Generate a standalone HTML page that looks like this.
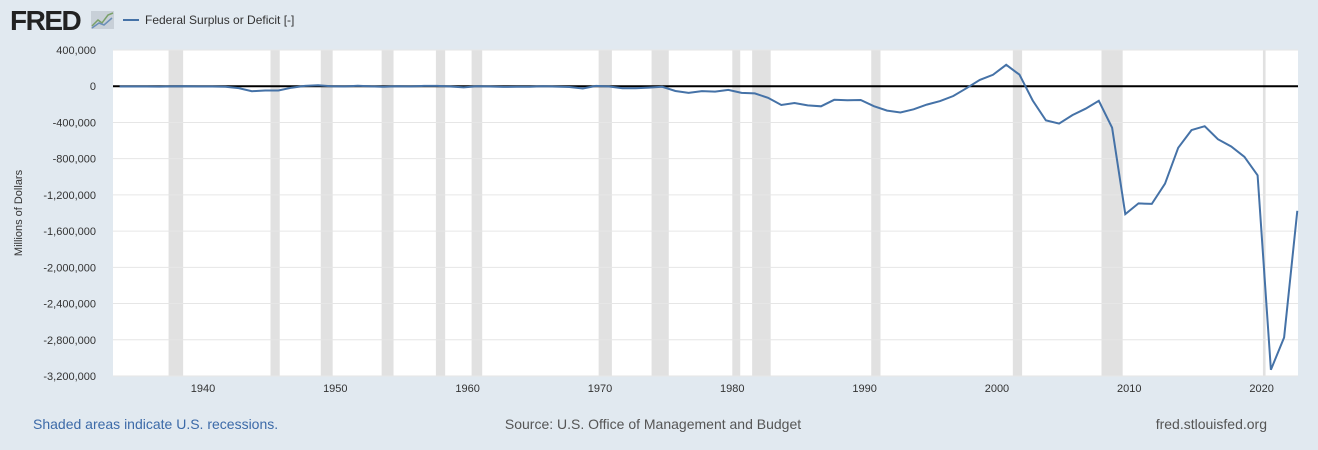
<!DOCTYPE html>
<html><head><meta charset="utf-8"><style>
body{margin:0;width:1318px;height:450px;background:#e1e9f0;font-family:"Liberation Sans",sans-serif;overflow:hidden}
</style></head><body>
<svg id="c" width="1318" height="450" style="position:absolute;left:0;top:0">
<text x="10" y="30" font-size="28" font-weight="bold" fill="#222" letter-spacing="-1.5">FRED</text>
<g><rect x="91" y="11" width="23" height="18" fill="#c8d0d8"/><polyline points="92,26 98,20 102,23 108,15 113,13" fill="none" stroke="#7aa06a" stroke-width="1.5"/><polyline points="92,28 99,23 104,25 112,18" fill="none" stroke="#6b8fb8" stroke-width="1.5"/></g>
<line x1="123" y1="20" x2="139" y2="20" stroke="#4572a7" stroke-width="2"/>
<text x="145" y="24" font-size="12" fill="#333">Federal Surplus or Deficit [-]</text>
<rect x="113" y="50" width="1185" height="326" fill="#fff"/>
<g id="rec"></g><g id="grid"></g><g id="xt"></g>
<text transform="translate(22,213) rotate(-90)" text-anchor="middle" font-size="11" fill="#333">Millions of Dollars</text>
<path id="line" fill="none" stroke="#4572a7" stroke-width="2"/>
<text x="33" y="429" font-size="14" fill="#3c6aa8">Shaded areas indicate U.S. recessions.</text>
<text x="653" y="429" font-size="14" fill="#555" text-anchor="middle">Source: U.S. Office of Management and Budget</text>
<text x="1267" y="429" font-size="14" fill="#555" text-anchor="end">fred.stlouisfed.org</text>
</svg>
<script>
const years=[];for(let y=1933;y<=2022;y++)years.push(y);
const values=[-2602,-3586,-2803,-4304,-2193,-89,-2846,-2920,-4941,-20503,-54554,-47557,-47553,-15936,4018,11796,580,-3119,6102,-1519,-6493,-1154,-2993,3947,3412,-2769,-12849,301,-3335,-7146,-4756,-5915,-1411,-3698,-8643,-25161,3242,-2842,-23033,-23373,-14908,-6135,-53242,-73732,-53659,-59185,-40726,-73830,-78968,-127977,-207802,-185367,-212308,-221227,-149730,-155178,-152639,-221036,-269238,-290321,-255051,-203186,-163952,-107431,-21884,69270,125610,236241,128236,-157758,-377585,-412727,-318346,-248181,-160701,-458553,-1412688,-1294373,-1299599,-1076573,-679775,-484602,-441960,-584651,-665446,-779137,-983588,-3131917,-2775327,-1375475];
const yTicks=[400000,0,-400000,-800000,-1200000,-1600000,-2000000,-2400000,-2800000,-3200000];
const xTicks=[1940,1950,1960,1970,1980,1990,2000,2010,2020];
const recessions=[[1937.4,1938.5],[1945.1,1945.8],[1948.9,1949.8],[1953.5,1954.4],[1957.6,1958.3],[1960.3,1961.1],[1969.9,1970.9],[1973.9,1975.2],[1980.0,1980.6],[1981.5,1982.9],[1990.5,1991.2],[2001.2,2001.9],[2007.9,2009.5],[2020.1,2020.3]];
const X=t=>113+(t-1933.2)/(2022.75-1933.2)*1185;
const Y=v=>50+(400000-v)/3600000*326;
const ns="http://www.w3.org/2000/svg";
const mk=(g,tag,a)=>{const e=document.createElementNS(ns,tag);for(const k in a)e.setAttribute(k,a[k]);document.getElementById(g).appendChild(e);return e;};
recessions.forEach(r=>{const e=mk('rec','rect',{x:X(r[0]),y:50,width:Math.max(1.5,X(r[1])-X(r[0])),height:326,fill:'#e1e1e1'});

});
yTicks.forEach(v=>{const l=mk('grid','line',{x1:113,x2:1298,y1:Y(v),y2:Y(v),stroke:v===0?'#000':'#e6e6e6','stroke-width':v===0?2:1});


const t=mk('grid','text',{x:96,y:Y(v)+4,'text-anchor':'end','font-size':11,fill:'#333'});t.textContent=v.toLocaleString('en-US');

});
xTicks.forEach(y=>{const t=mk('xt','text',{x:X(y),y:392,'text-anchor':'middle','font-size':11,fill:'#333'});t.textContent=y;

});
document.getElementById('line').setAttribute('d',values.map((v,i)=>(i?'L':'M')+X(years[i]+0.7).toFixed(1)+','+Y(v).toFixed(1)).join(''));
</script>
</body></html>
